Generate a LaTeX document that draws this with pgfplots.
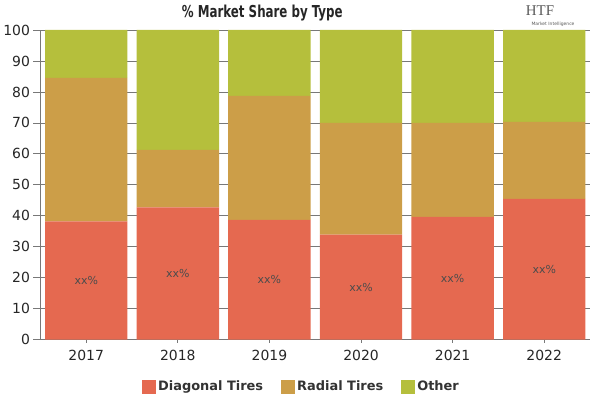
\documentclass[border=0pt]{standalone}
\usepackage{pgfplots}
\pgfplotsset{compat=1.18}
\usepackage{fontspec}
\setmainfont{DejaVu Sans}
\newfontfamily\titlefont[FakeStretch=0.8]{DejaVu Sans Condensed}
\newfontfamily\logofont{Liberation Serif}
\definecolor{cDiag}{RGB}{229,105,80}
\definecolor{cRad}{RGB}{204,158,72}
\definecolor{cOth}{RGB}{181,191,60}
\definecolor{axgray}{RGB}{120,120,120}
\begin{document}
\begin{tikzpicture}[x=1bp,y=1bp]
\path (0,0) rectangle (600,400);
\node[font=\titlefont\bfseries\fontsize{16.5}{18}\selectfont, text=black!85] at (262,387) {\% Market Share by Type};
\node[font=\logofont\fontsize{15}{16}\selectfont, text=black!65] at (540,389) {HTF};
\node[font=\fontsize{4.5}{5}\selectfont, text=black!65] at (553,376) {Market Intelligence};
\begin{axis}[
  at={(40bp,60bp)}, anchor=south west,
  scale only axis, width=550bp, height=310bp,
  ybar stacked, bar width=0.9,
  xmin=-0.5, xmax=5.5, ymin=0, ymax=100,
  xtick={0,1,2,3,4,5},
  xticklabels={2017,2018,2019,2020,2021,2022},
  ytick={0,10,...,100},
  axis lines*=left,
  axis line style={axgray, line width=0.8bp},
  tick style={axgray, line width=0.8bp},
  tick align=outside,
  ymajorgrids, grid style={axgray, line width=0.8bp},
  major tick length=7bp,
  xtick style={/pgfplots/major tick length=3bp},
  /pgf/number format/assume math mode=true,
  ticklabel style={font=\fontsize{14}{16}\selectfont, text=black!85},
  legend style={at={(0.475,-0.152)}, anchor=center, draw=none, fill=none,
    legend columns=3, font=\bfseries\fontsize{13}{15}\selectfont, text=black!80,
    /tikz/every even column/.append style={column sep=16bp}},
  legend image code/.code={\fill[#1] (0bp,-7bp) rectangle (14bp,7bp);},
]
\addplot[fill=cDiag, draw=none]
  coordinates {(0,38.2) (1,42.7) (2,38.7) (3,33.9) (4,39.7) (5,45.5)};
\addlegendentry{Diagonal Tires}
\addplot[fill=cRad, draw=none]
  coordinates {(0,46.3) (1,18.6) (2,40.0) (3,36.1) (4,30.3) (5,24.8)};
\addlegendentry{Radial Tires}
\addplot[fill=cOth, draw=none]
  coordinates {(0,15.5) (1,38.7) (2,21.3) (3,30.0) (4,30.0) (5,29.7)};
\addlegendentry{Other}
\end{axis}
\begin{axis}[
  at={(40bp,60bp)}, anchor=south west,
  scale only axis, width=550bp, height=310bp,
  xmin=-0.5, xmax=5.5, ymin=0, ymax=100,
  hide axis,
]
\addplot[only marks, mark=none, nodes near coords={xx\%},
  every node near coord/.append style={anchor=center, font=\fontsize{11}{13}\selectfont, text=black!70}]
  coordinates {(0,19.1) (1,21.35) (2,19.35) (3,16.95) (4,19.85) (5,22.75)};
\end{axis}
\end{tikzpicture}
\end{document}
